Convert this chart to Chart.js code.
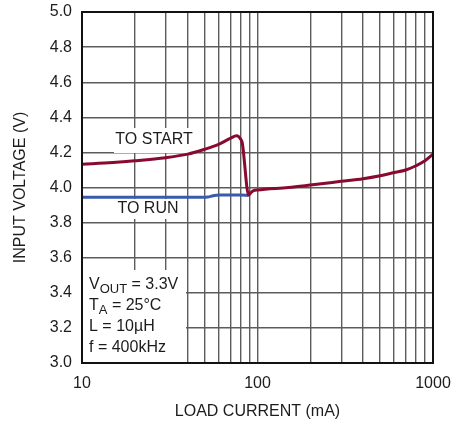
<!DOCTYPE html>
<html>
<head>
<meta charset="utf-8">
<script src="https://cdn.jsdelivr.net/npm/chart.js@4.4.1/dist/chart.umd.min.js"></script>
<style>
  body { margin: 0; background: #fff; }
  canvas { display: block; }
</style>
</head>
<body>
<canvas id="vinChart" width="453" height="421"></canvas>
<script>
// load current (mA) and input voltage (V) for the two thresholds
const startCurrent = [10, 15, 20, 30, 40, 50, 60, 70, 76, 80, 82, 89, 92, 95, 100, 150, 200, 300, 400, 500, 600, 700, 800, 900, 1000];
const startVoltage = [4.133, 4.142, 4.152, 4.17, 4.19, 4.218, 4.246, 4.28, 4.295, 4.277, 4.25, 3.957, 3.972, 3.982, 3.986, 4.0, 4.014, 4.035, 4.05, 4.067, 4.085, 4.10, 4.124, 4.152, 4.19];
const runCurrent = [10, 30, 50, 52, 56, 60, 70, 80, 89];
const runVoltage = [3.944, 3.944, 3.944, 3.946, 3.953, 3.957, 3.957, 3.957, 3.955];

const xGridValues = [10, 20, 30, 40, 50, 60, 70, 80, 90, 100, 200, 300, 400, 500, 600, 700, 800, 900, 1000];
const xTickLabels = [10, 100, 1000];

const FONT = "'Liberation Sans', Arial, sans-serif";
const TEXT = '#1c1c1c';
const GRID = '#5c5c5c';
Chart.defaults.font.family = FONT;
Chart.defaults.font.size = 16;
Chart.defaults.color = TEXT;

function toPoints(xs, ys) {
    return xs.map((x, i) => ({ x: x, y: ys[i] }));
}

// text with subscripts, drawn left to right from x
function drawParts(ctx, x, y, parts) {
    for (const p of parts) {
        ctx.font = p.sub ? `13px ${FONT}` : `16px ${FONT}`;
        ctx.fillText(p.t, x, p.sub ? y + 4 : y);
        x += ctx.measureText(p.t).width;
    }
}

const notes = {
    id: 'notes',
    beforeDatasetsDraw(chart) {
        const { ctx, chartArea } = chart;
        ctx.save();
        ctx.fillStyle = '#fff';
        ctx.fillRect(114, 128, 80, 25);   // behind TO START
        ctx.fillRect(114, 199, 68, 20);   // behind TO RUN
        ctx.fillRect(chartArea.left, 270, 104, chartArea.bottom - 270);
        ctx.restore();
    },
    afterDatasetsDraw(chart) {
        const { ctx, chartArea } = chart;
        ctx.save();
        ctx.fillStyle = TEXT;
        ctx.textBaseline = 'middle';
        ctx.textAlign = 'center';
        ctx.font = `16px ${FONT}`;
        ctx.fillText('TO START', 154, 140);
        ctx.fillText('TO RUN', 148, 209);

        ctx.textAlign = 'left';
        const lx = chartArea.left + 7;
        drawParts(ctx, lx, 285, [{ t: 'V' }, { t: 'OUT', sub: true }, { t: ' = 3.3V' }]);
        drawParts(ctx, lx, 306, [{ t: 'T' }, { t: 'A', sub: true }, { t: ' = 25°C' }]);
        drawParts(ctx, lx, 327, [{ t: 'L = 10µH' }]);
        drawParts(ctx, lx, 348, [{ t: 'f = 400kHz' }]);

        // plot frame
        ctx.strokeStyle = '#111';
        ctx.lineWidth = 2;
        ctx.strokeRect(chartArea.left, chartArea.top, chartArea.right - chartArea.left, chartArea.bottom - chartArea.top);
        ctx.restore();
    }
};

new Chart(document.getElementById('vinChart'), {
    type: 'line',
    data: {
        datasets: [{
            label: 'TO START',
            data: toPoints(startCurrent, startVoltage),
            borderColor: '#880a30',
            borderWidth: 3,
            pointRadius: 0,
            cubicInterpolationMode: 'monotone'
        }, {
            label: 'TO RUN',
            data: toPoints(runCurrent, runVoltage),
            borderColor: '#3a5aab',
            borderWidth: 3,
            pointRadius: 0,
            cubicInterpolationMode: 'monotone'
        }]
    },
    options: {
        responsive: false,
        devicePixelRatio: 1,
        animation: false,
        layout: { padding: { top: 12, right: 20, left: 0, bottom: 0 } },
        plugins: { legend: { display: false }, tooltip: { enabled: false } },
        scales: {
            x: {
                type: 'logarithmic',
                min: 10,
                max: 1000,
                afterBuildTicks: (scale) => {
                    scale.ticks = xGridValues.map(v => ({ value: v }));
                },
                afterFit: (scale) => {
                    scale.height = 58;
                    scale.paddingLeft = 0;
                    scale.paddingRight = 0;
                },
                ticks: {
                    autoSkip: false,
                    maxRotation: 0,
                    padding: 11,
                    callback: (value) => xTickLabels.includes(value) ? String(value) : ''
                },
                grid: { color: GRID, lineWidth: 1.4, drawTicks: false },
                border: { display: false },
                title: { display: true, text: 'LOAD CURRENT (mA)', padding: 0 }
            },
            y: {
                min: 3,
                max: 5,
                afterFit: (scale) => {
                    scale.width = 82;
                    scale.paddingTop = 0;
                    scale.paddingBottom = 0;
                },
                ticks: {
                    stepSize: 0.2,
                    padding: 10,
                    callback: (value) => value.toFixed(1)
                },
                grid: { color: GRID, lineWidth: 1.4, drawTicks: false },
                border: { display: false },
                title: { display: true, text: 'INPUT VOLTAGE (V)', padding: { top: 11, bottom: 0 } }
            }
        }
    },
    plugins: [notes]
});
</script>
</body>
</html>
